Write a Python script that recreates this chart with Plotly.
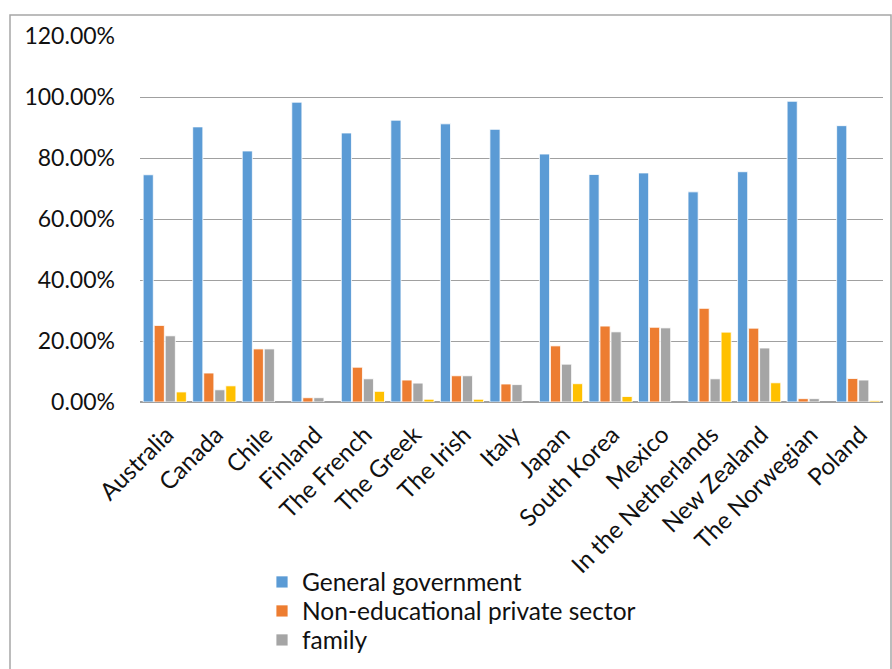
import plotly.graph_objects as go

countries = ["Australia", "Canada", "Chile", "Finland", "The French", "The Greek",
             "The Irish", "Italy", "Japan", "South Korea", "Mexico",
             "In the Netherlands", "New Zealand", "The Norwegian", "Poland"]

general_government = [0.745, 0.902, 0.823, 0.983, 0.882, 0.924, 0.912, 0.894,
                      0.813, 0.746, 0.751, 0.689, 0.755, 0.986, 0.906]
private_non_edu = [0.251, 0.095, 0.174, 0.014, 0.114, 0.072, 0.086, 0.059,
                   0.184, 0.249, 0.245, 0.307, 0.242, 0.011, 0.077]
family = [0.217, 0.040, 0.174, 0.014, 0.076, 0.062, 0.086, 0.057,
          0.124, 0.230, 0.243, 0.076, 0.177, 0.011, 0.072]
other = [0.033, 0.053, None, None, 0.035, 0.009, 0.009, None,
         0.060, 0.018, None, 0.229, 0.063, None, 0.004]

W, H = 892, 669
L, R, T, B = 140, 9, 36, 267
pw, ph = W - L - R, H - T - B


def px_x(v):
    return (v - L) / pw


def px_y(v):
    return (H - B - v) / ph


# (name, values, colour, legend id or None, legend row centre in px)
series = [
    ("General government", general_government, "#5B9BD5", "legend", 582),
    ("Non-educational private sector", private_non_edu, "#ED7D31", "legend2", 611),
    ("family", family, "#A5A5A5", "legend3", 640),
    ("Other", other, "#FFC000", None, None),
]

fig = go.Figure()
legend_layout = {}
for name, vals, color, leg, row_y in series:
    fig.add_trace(go.Bar(
        x=countries, y=vals, name=name,
        showlegend=leg is not None,
        legend=leg if leg else "legend",
        marker=dict(color=color, line=dict(color="white", width=0.8)),
    ))
    if leg:
        legend_layout[leg] = dict(
            x=px_x(262), y=px_y(row_y), xanchor="left", yanchor="middle",
            font=dict(size=24.5), bgcolor="rgba(0,0,0,0)", itemwidth=30,
        )

fig.update_layout(
    width=W, height=H,
    margin=dict(l=L, r=R, t=T, b=B, pad=0, autoexpand=False),
    paper_bgcolor="white", plot_bgcolor="white",
    barmode="group", bargap=0.11, bargroupgap=0.08,
    font=dict(family="Lato", size=22, color="#111111"),
    xaxis=dict(
        tickangle=-45, tickfont=dict(size=24), showgrid=False,
        showline=False, ticks="", automargin=False,
        ticklabelstandoff=13, ticklabelshift=2,
    ),
    yaxis=dict(
        range=[0, 1.2], dtick=0.2, tickformat=".2%",
        tickfont=dict(size=23), showgrid=True, gridcolor="#A0A0A0",
        gridwidth=1, zeroline=True, zerolinecolor="#A0A0A0", zerolinewidth=1.5,
        showline=False, ticks="", ticklabelstandoff=24, automargin=False,
    ),
    shapes=[dict(
        type="rect", xref="paper", yref="paper",
        x0=px_x(10), x1=px_x(891), y0=px_y(700), y1=px_y(15),
        line=dict(color="#A6A6A6", width=1.5), layer="below",
    )],
    **legend_layout,
)

fig.write_html("out.html")
